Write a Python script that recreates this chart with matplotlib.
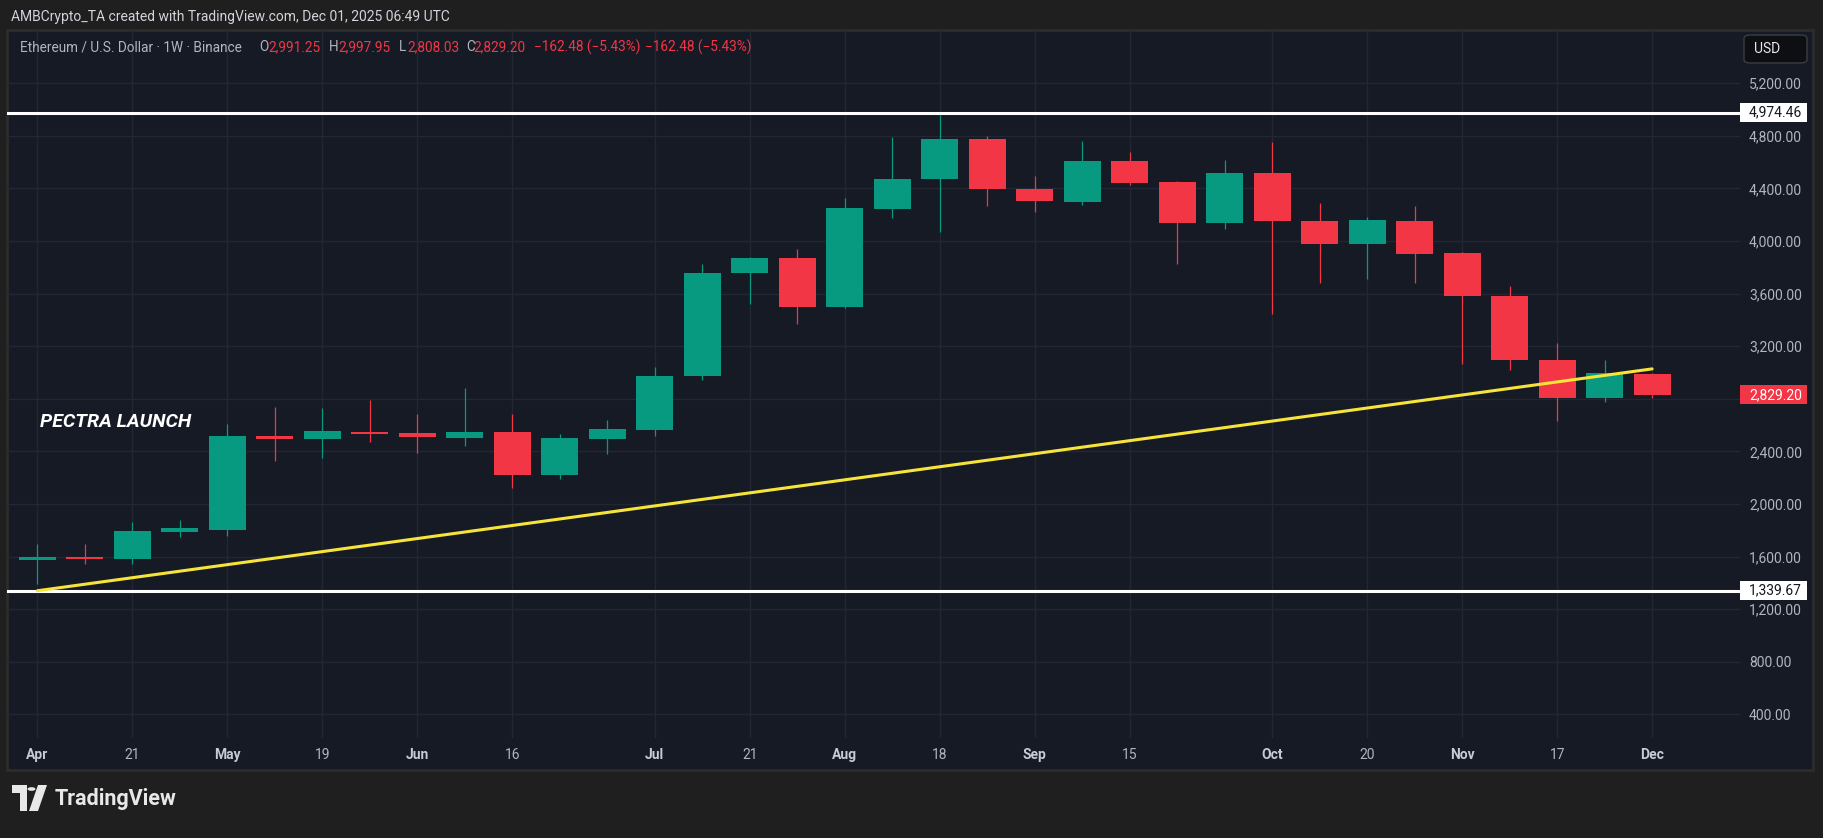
import matplotlib
matplotlib.use("Agg")
import matplotlib.pyplot as plt
import matplotlib.dates as mdates
import matplotlib.transforms as mtransforms
from matplotlib.patches import Rectangle, FancyBboxPatch, Polygon, Circle
import pandas as pd

plt.rcParams['font.family'] = ['Roboto', 'DejaVu Sans']

# weekly ETH/USD candles (Binance, 1W)
weeks = ["2025-04-07", "2025-04-14", "2025-04-21", "2025-04-28", "2025-05-05",
         "2025-05-12", "2025-05-19", "2025-05-26", "2025-06-02", "2025-06-09",
         "2025-06-16", "2025-06-23", "2025-06-30", "2025-07-07", "2025-07-14",
         "2025-07-21", "2025-07-28", "2025-08-04", "2025-08-11", "2025-08-18",
         "2025-08-25", "2025-09-01", "2025-09-08", "2025-09-15", "2025-09-22",
         "2025-09-29", "2025-10-06", "2025-10-13", "2025-10-20", "2025-10-27",
         "2025-11-03", "2025-11-10", "2025-11-17", "2025-11-24", "2025-12-01"]
opens = [1577, 1593, 1580, 1790, 1802, 2515, 2494, 2547, 2539, 2501,
         2547, 2220, 2494, 2562, 2970, 3754, 3873, 3495, 4240, 4468,
         4778, 4398, 4299, 4610, 4451, 4139, 4519, 4154, 3980, 4154,
         3911, 3584, 3097, 2803, 2991.25]
highs = [1692, 1692, 1862, 1877, 2608, 2735, 2729, 2790, 2684, 2882,
         2684, 2532, 2638, 3042, 3828, 3881, 3941, 4329, 4793, 4956,
         4801, 4497, 4763, 4679, 4458, 4618, 4755, 4291, 4185, 4268,
         3919, 3660, 3227, 3097, 2997.95]
lows = [1390, 1545, 1545, 1745, 1758, 2330, 2351, 2473, 2387, 2440,
        2121, 2189, 2379, 2516, 2940, 3518, 3366, 3490, 4172, 4065,
        4263, 4217, 4276, 4428, 3828, 4094, 3447, 3682, 3712, 3682,
        3062, 3016, 2628, 2773, 2808.03]
closes = [1593, 1580, 1794, 1817, 2517, 2497, 2554, 2530, 2509, 2547,
          2220, 2501, 2570, 2973, 3759, 3873, 3495, 4253, 4474, 4778,
          4392, 4301, 4610, 4443, 4139, 4519, 4154, 3980, 4162, 3903,
          3579, 3092, 2803, 2998, 2829.20]

tick_dates = ["2025-04-07", "2025-04-21", "2025-05-05", "2025-05-19", "2025-06-02",
              "2025-06-16", "2025-07-07", "2025-07-21", "2025-08-04", "2025-08-18",
              "2025-09-01", "2025-09-15", "2025-10-06", "2025-10-20", "2025-11-03",
              "2025-11-17", "2025-12-01"]
tick_labels = ["Apr", "21", "May", "19", "Jun", "16", "Jul", "21", "Aug", "18",
               "Sep", "15", "Oct", "20", "Nov", "17", "Dec"]
price_ticks = [400, 800, 1200, 1600, 2000, 2400, 2800, 3200, 3600, 4000, 4400, 4800, 5200]

resistance = 4974.46
support = 1339.67
trend_dates = ["2025-04-07", "2025-12-01"]
trend_values = [1339.67, 3027]
last_close = 2829.20

UP = "#089981"
DOWN = "#F23645"
PANE = "#161A25"
GRID = "#232733"
TXT = "#B2B5BE"

W, H = 1824, 838


def fx(x):
    return x / W


def fy(y):
    return 1 - y / H


fig = plt.figure(figsize=(W / 100, H / 100), dpi=100, facecolor="#1F1F1F")

# chart pane
fig.add_artist(Rectangle((fx(7), fy(770)), fx(1813) - fx(7), fy(30) - fy(770),
                         transform=fig.transFigure, facecolor=PANE,
                         edgecolor="#2C2C2C", lw=2, zorder=0))

ax = fig.add_axes([fx(7), fy(738), fx(1740) - fx(7), fy(30) - fy(738)])
ax.set_facecolor("none")
for s in ax.spines.values():
    s.set_visible(False)

d = mdates.date2num(pd.to_datetime(weeks))
x0 = d[0]
ax.set_xlim(x0 - 4.47, x0 + 250.95)
ax.set_ylim(220, 5604)

# grid
tk = mdates.date2num(pd.to_datetime(tick_dates))
for t in tk:
    ax.axvline(t, color=GRID, lw=1, zorder=1)
for p in price_ticks:
    ax.axhline(p, color=GRID, lw=1, zorder=1)

# candles
body_w = 5.45
for xi, o, h, l, c in zip(d, opens, highs, lows, closes):
    col = UP if c >= o else DOWN
    ax.vlines(xi, l, h, color=col, lw=0.9, zorder=3)
    bot = min(o, c)
    hgt = max(abs(c - o), 14)
    ax.bar(xi, hgt, bottom=bot, width=body_w, color=col, lw=0, zorder=4)

# horizontal levels
ax.axhline(resistance, color="white", lw=2.2, zorder=5)
ax.axhline(support, color="white", lw=2.2, zorder=5)

# trend line
td = mdates.date2num(pd.to_datetime(trend_dates))
ax.plot(td, trend_values, color="#F7E43A", lw=2.2, zorder=6, solid_capstyle="round")

ax.text(x0 + 0.4, 2625, "PECTRA LAUNCH", color="white", fontsize=14,
        fontweight="bold", style="italic", ha="left", va="center", zorder=7)

# axes ticks (the 2,800 label sits under the last-price tag, as on the chart)
ax.yaxis.tick_right()
ax.set_yticks(price_ticks)
ax.set_yticklabels(["" if p == 2800 else f"{p:,.2f}" for p in price_ticks])
ax.tick_params(axis="y", length=0, pad=6.5, labelsize=10, labelcolor=TXT)
ax.set_xticks(tk)
ax.set_xticklabels(tick_labels)
ax.tick_params(axis="x", length=0, pad=7, labelsize=10, labelcolor=TXT)
for lab in ax.get_xticklabels():
    if not lab.get_text().isdigit():
        lab.set_fontweight("bold")
        lab.set_color("#C8CBD3")

# price labels on the axis
blend = mtransforms.blended_transform_factory(ax.transAxes, ax.transData)
box_w = 67 / 1733
box_h = 145
for val, fc, tc in [(resistance, "white", "#131722"), (support, "white", "#131722"),
                    (last_close, DOWN, "white")]:
    ax.add_patch(Rectangle((1.0, val - box_h / 2), box_w, box_h, transform=blend,
                           facecolor=fc, edgecolor="none", clip_on=False, zorder=8))
    ax.text(1.0 + 9 / 1733, val, f"{val:,.2f}", transform=blend, color=tc,
            fontsize=10, ha="left", va="center", clip_on=False, zorder=9)

# USD button
fig.add_artist(FancyBboxPatch((fx(1744), fy(63)), fx(1807) - fx(1744), fy(35) - fy(63),
                              boxstyle="round,pad=0,rounding_size=0.004",
                              transform=fig.transFigure, facecolor="#0E0F12",
                              edgecolor="#3A3D45", lw=1, zorder=2))
fig.text(fx(1754), fy(49), "USD", color="#E6E8EE", fontsize=10, va="center", ha="left")

# header texts
fig.text(fx(11), fy(17), "AMBCrypto_TA created with TradingView.com, Dec 01, 2025 06:49 UTC",
         color="#D1D4DC", fontsize=10, va="center", ha="left")
legend_parts = [(20, "Ethereum / U.S. Dollar \u00b7 1W \u00b7 Binance", TXT),
                (259, "O", TXT), (268.7, "2,991.25", DOWN),
                (329, "H", TXT), (338, "2,997.95", DOWN),
                (399, "L", TXT), (407, "2,808.03", DOWN),
                (465.8, "C", TXT), (473.5, "2,829.20", DOWN),
                (534, "\u2212162.48 (\u22125.43%)", DOWN),
                (645.4, "\u2212162.48 (\u22125.43%)", DOWN)]
for xp, s, c in legend_parts:
    fig.text(fx(xp), fy(47), s, color=c, fontsize=9.8, va="center", ha="left")

# TradingView logo
fig.add_artist(Polygon([(fx(12), fy(785)), (fx(27), fy(785)), (fx(27), fy(811)),
                        (fx(20), fy(811)), (fx(20), fy(793)), (fx(12), fy(793))],
                       closed=True, transform=fig.transFigure, facecolor="#E8E8E8", lw=0))
fig.add_artist(Circle((fx(31.5), fy(789)), 4 / W, transform=fig.transFigure,
                      facecolor="#E8E8E8", lw=0))
fig.add_artist(Polygon([(fx(38), fy(785)), (fx(47), fy(785)), (fx(38), fy(811)),
                        (fx(29), fy(811))],
                       closed=True, transform=fig.transFigure, facecolor="#E8E8E8", lw=0))
fig.text(fx(55), fy(799), "TradingView", color="#E8E8E8", fontsize=15.5,
         fontweight="bold", va="center", ha="left")

fig.savefig("out.png", dpi=100, facecolor=fig.get_facecolor())
